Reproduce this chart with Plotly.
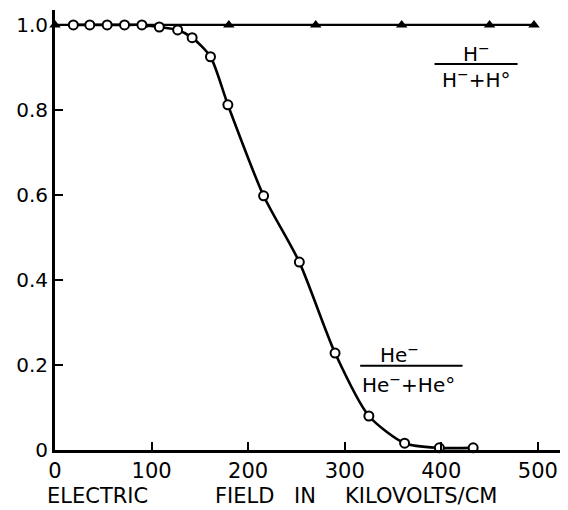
import plotly.graph_objects as go

# H- / (H- + H0) fraction (filled triangles)
h_field = [0, 91, 180, 270, 359, 450, 496]
h_frac = [1.0, 1.0, 1.0, 1.0, 1.0, 1.0, 1.0]

# He- / (He- + He0) fraction (open circles)
he_field = [19, 36, 54, 72, 90, 108, 127, 142, 161, 179, 216, 253, 290, 325, 362, 398, 433]
he_frac = [1.0, 1.0, 1.0, 1.0, 1.0, 0.995, 0.988, 0.97, 0.925, 0.812, 0.598, 0.442,
           0.228, 0.08, 0.016, 0.005, 0.005]

x_ticks = [0, 100, 200, 300, 400, 500]
x_tick_labels = ["0", "100", "200", "300", "400", "500"]
y_ticks = [0, 0.2, 0.4, 0.6, 0.8, 1.0]
y_tick_labels = ["0", "0.2", "0.4", "0.6", "0.8", "1.0"]

x_title_words = ["ELECTRIC", "FIELD", "IN", "KILOVOLTS/CM"]

FONT = "DejaVu Sans"
# page has an 8px body margin, so the figure is 8px smaller than the window
W, H = 560, 502
L, R, T, B = 47, 6, 2, 60
PW = W - L - R
PH = H - T - B

fig = go.Figure()

fig.add_trace(go.Scatter(
    x=h_field, y=h_frac, mode="lines+markers",
    line=dict(color="black", width=2.2),
    marker=dict(symbol="triangle-up", size=10, color="black"),
    showlegend=False, cliponaxis=False,
))

fig.add_trace(go.Scatter(
    x=he_field, y=he_frac, mode="lines+markers",
    line=dict(color="black", width=2.6, shape="spline", smoothing=0.7),
    marker=dict(symbol="circle", size=9, color="white",
                line=dict(color="black", width=2)),
    showlegend=False, cliponaxis=False,
))

annos = [
    dict(x=436, y=0.935, text="H<sup>−</sup>"),
    dict(x=436, y=0.873, text="H<sup>−</sup>+H°"),
    dict(x=357, y=0.226, text="He<sup>−</sup>"),
    dict(x=366, y=0.156, text="He<sup>−</sup>+He°"),
]
for a in annos:
    fig.add_annotation(x=a["x"], y=a["y"], text=a["text"], showarrow=False,
                       xref="x", yref="y",
                       font=dict(family=FONT, size=20, color="black"))

fig.add_shape(type="line", xref="x", yref="y", x0=393, x1=479, y0=0.908, y1=0.908,
              line=dict(color="black", width=2))
fig.add_shape(type="line", xref="x", yref="y", x0=316, x1=422, y0=0.198, y1=0.198,
              line=dict(color="black", width=2))

# x-axis title, word by word (widely spaced lettering in the original)
word_px = [97, 244, 305, 421]
for word, px in zip(x_title_words, word_px):
    fig.add_annotation(x=(px - 55) / PW, y=-0.1045, xref="paper", yref="paper",
                       text=word, showarrow=False, xanchor="center", yanchor="middle",
                       font=dict(family=FONT, size=21, color="black"))

fig.update_layout(
    width=W, height=H,
    margin=dict(l=L, r=R, t=T, b=B),
    paper_bgcolor="white", plot_bgcolor="white",
    font=dict(family=FONT, color="black"),
    xaxis=dict(
        range=[0, 525], showgrid=False, zeroline=False, automargin=False,
        showline=True, linecolor="black", linewidth=3,
        ticks="inside", ticklen=8, tickwidth=2, tickcolor="black",
        tickvals=x_ticks, ticktext=x_tick_labels,
        tickfont=dict(family=FONT, size=21),
    ),
    yaxis=dict(
        range=[0, 1.035], showgrid=False, zeroline=False, automargin=False,
        showline=True, linecolor="black", linewidth=3,
        ticks="inside", ticklen=8, tickwidth=2, tickcolor="black",
        tickvals=y_ticks, ticktext=y_tick_labels,
        tickfont=dict(family=FONT, size=20),
    ),
)

fig.write_html("out.html")
